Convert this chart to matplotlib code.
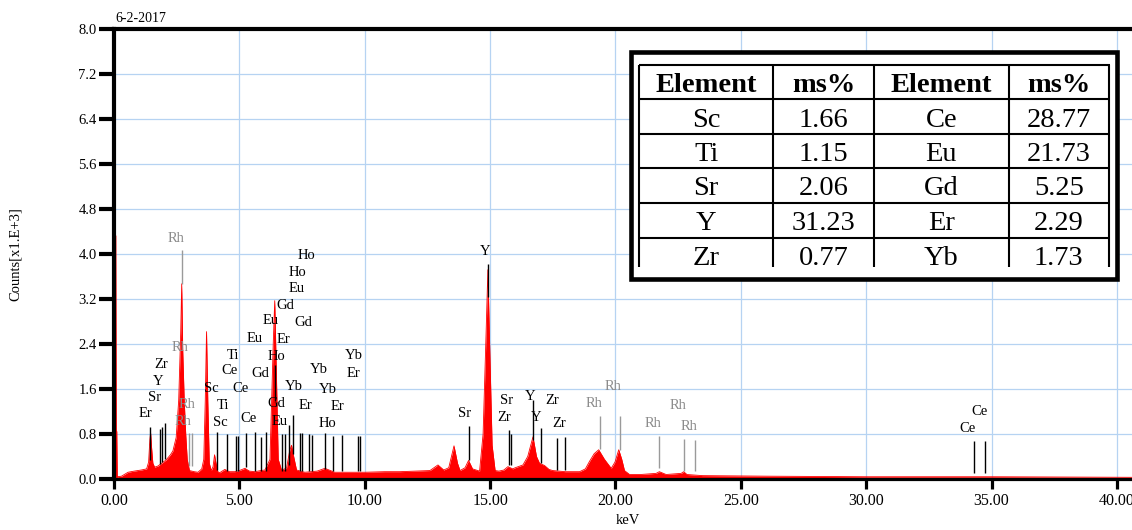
import matplotlib
matplotlib.use("Agg")
import matplotlib.pyplot as plt
from matplotlib.patches import Rectangle
from matplotlib.transforms import Bbox

plt.rcParams['font.family'] = ['Liberation Serif', 'DejaVu Serif']

# ---------------- data ----------------
energy_kev = [0.00, 0.05, 0.07, 0.09, 0.11, 0.13, 0.30, 0.56, 0.80, 1.09, 1.30, 1.38, 1.43, 1.46, 1.50,
              1.55, 1.62, 1.75, 1.90, 2.08, 2.25, 2.35, 2.48, 2.58, 2.66, 2.70, 2.74, 2.80, 2.86,
              2.92, 3.01, 3.20, 3.35, 3.50, 3.58, 3.64, 3.69, 3.74, 3.80, 3.88, 3.95, 4.01, 4.06,
              4.14, 4.21, 4.42, 4.60, 4.82, 5.00, 5.22, 5.40, 5.62, 5.85, 6.02, 6.22, 6.35, 6.41,
              6.48, 6.55, 6.68, 6.88, 7.01, 7.08, 7.17, 7.28, 7.61, 8.10, 8.41, 8.80, 9.50, 10.00,
              10.80, 11.40, 12.60, 12.92, 13.15, 13.35, 13.56, 13.70, 13.80, 14.00, 14.14, 14.30,
              14.58, 14.72, 14.84, 14.91, 14.98, 15.08, 15.20, 15.35, 15.55, 15.71, 15.90, 16.00,
              16.31, 16.50, 16.71, 16.85, 16.97, 17.17, 17.35, 17.50, 18.00, 18.57, 18.80, 18.96,
              19.15, 19.33, 19.56, 19.83, 19.98, 20.13, 20.25, 20.36, 20.56, 21.00, 21.62, 21.75,
              22.02, 22.62, 22.72, 22.85, 23.47, 26.10, 30.00, 35.00, 40.60]
counts_k = [0.00, 4.33, 4.33, 0.85, 0.85, 0.04, 0.05, 0.12, 0.14, 0.16, 0.18, 0.30, 0.70, 0.82, 0.55,
            0.28, 0.21, 0.23, 0.28, 0.34, 0.43, 0.50, 0.74, 1.40, 2.60, 3.47, 2.30, 1.40, 0.80,
            0.35, 0.15, 0.13, 0.12, 0.18, 0.35, 1.40, 2.62, 1.40, 0.28, 0.15, 0.22, 0.43, 0.30,
            0.13, 0.11, 0.17, 0.13, 0.13, 0.15, 0.19, 0.14, 0.13, 0.15, 0.16, 0.35, 2.40, 3.17,
            1.80, 0.35, 0.16, 0.19, 0.51, 0.60, 0.39, 0.16, 0.12, 0.14, 0.19, 0.12, 0.12, 0.12,
            0.13, 0.13, 0.15, 0.25, 0.16, 0.20, 0.59, 0.28, 0.15, 0.20, 0.33, 0.18,
            0.14, 0.80, 2.60, 3.72, 2.40, 0.60, 0.15, 0.14, 0.16, 0.22, 0.18, 0.20,
            0.25, 0.40, 0.75, 0.40, 0.28, 0.24, 0.17, 0.15, 0.13, 0.13, 0.18, 0.31,
            0.45, 0.52, 0.35, 0.19, 0.30, 0.52, 0.35, 0.15, 0.08, 0.08, 0.10, 0.13,
            0.08, 0.10, 0.13, 0.08, 0.06, 0.05, 0.04, 0.04, 0.03]

# element marker lines: energy, top, bottom (x1E3 counts)
line_kev = [1.42, 1.82, 1.91, 2.04, 4.09, 4.49, 4.85, 4.93, 5.27, 5.63, 5.86, 6.06, 6.44, 6.72, 6.83,
            6.96, 7.12, 7.41, 7.49, 7.78, 7.89, 8.42, 8.74, 9.10, 9.73, 9.80, 14.16, 14.93, 15.75,
            15.84, 16.73, 17.02, 17.66, 17.97, 34.28, 34.73]
line_top = [0.93, 0.89, 0.92, 0.99, 0.84, 0.80, 0.76, 0.76, 0.81, 0.83, 0.74, 0.84, 2.03, 0.80, 0.80,
            0.96, 1.13, 0.82, 0.82, 0.80, 0.78, 0.82, 0.76, 0.78, 0.76, 0.76, 0.94, 3.82, 0.87,
            0.80, 1.40, 0.90, 0.73, 0.75, 0.68, 0.68]
line_bot = [0.34, 0.27, 0.30, 0.36, 0.16, 0.15, 0.15, 0.15, 0.22, 0.15, 0.15, 0.15, 1.38, 0.15, 0.15,
            0.25, 0.45, 0.15, 0.15, 0.15, 0.15, 0.18, 0.15, 0.15, 0.15, 0.15, 0.34, 3.24, 0.25,
            0.25, 0.70, 0.28, 0.16, 0.16, 0.10, 0.10]

# Rh (tube) marker lines
rh_kev = [2.71, 3.01, 3.11, 19.40, 20.17, 21.75, 22.72, 23.17]
rh_top = [4.07, 0.81, 0.81, 1.12, 1.12, 0.76, 0.72, 0.70]
rh_bot = [3.47, 0.24, 0.24, 0.53, 0.52, 0.19, 0.15, 0.14]

# peak labels
label_text = ['Er', 'Sr', 'Y', 'Zr', 'Sc', 'Ti', 'Sc', 'Ti', 'Ce', 'Ce', 'Ce', 'Eu', 'Gd', 'Eu', 'Ho',
              'Gd', 'Eu', 'Gd', 'Er', 'Eu', 'Ho', 'Ho', 'Gd', 'Yb', 'Er', 'Yb', 'Yb', 'Er', 'Ho',
              'Yb', 'Er', 'Y', 'Sr', 'Sr', 'Zr', 'Y', 'Y', 'Zr', 'Zr', 'Ce', 'Ce']
label_kev = [1.24, 1.63, 1.77, 1.87, 3.89, 4.33, 4.25, 4.75, 4.62, 5.05, 5.38, 5.62, 5.82, 6.24, 6.48,
             6.48, 6.61, 6.85, 6.77, 7.28, 7.30, 7.67, 7.54, 7.17, 7.64, 8.17, 8.54, 8.90, 8.51,
             9.56, 9.54, 14.81, 13.98, 15.67, 15.58, 16.60, 16.84, 17.48, 17.77, 34.50, 34.04]
label_cnt = [1.16, 1.45, 1.74, 2.04, 1.61, 1.30, 1.00, 2.20, 1.92, 1.60, 1.07, 2.50, 1.88, 2.81, 2.17,
             1.35, 1.02, 3.09, 2.48, 3.39, 3.67, 3.98, 2.78, 1.65, 1.30, 1.95, 1.59, 1.29, 0.98,
             2.19, 1.88, 4.04, 1.17, 1.39, 1.10, 1.46, 1.10, 1.39, 0.98, 1.20, 0.89]
rh_label_kev = [2.46, 2.63, 2.92, 2.76, 19.16, 19.92, 21.49, 22.48, 22.92]
rh_label_cnt = [4.28, 2.34, 1.33, 1.03, 1.35, 1.65, 0.99, 1.30, 0.94]

x_ticks = [0, 5, 10, 15, 20, 25, 30, 35, 40]
y_ticks = [0.0, 0.8, 1.6, 2.4, 3.2, 4.0, 4.8, 5.6, 6.4, 7.2, 8.0]

tbl_header = ['Element', 'ms%', 'Element', 'ms%']
elem_left = ['Sc', 'Ti', 'Sr', 'Y', 'Zr']
ms_left = ['1.66', '1.15', '2.06', '31.23', '0.77']
elem_right = ['Ce', 'Eu', 'Gd', 'Er', 'Yb']
ms_right = ['28.77', '21.73', '5.25', '2.29', '1.73']

# ---------------- figure ----------------
W, H = 1132, 530
fig = plt.figure(figsize=(W / 100, H / 100), dpi=100)
ax = fig.add_axes([114 / W, 51 / H, (W - 114) / W, 450 / H])
ax.set_xlim(0, 40.6)
ax.set_ylim(0, 8.0)

ax.set_axisbelow(True)
ax.grid(True, color='#b6d3f2', lw=0.9)

ax.fill_between(energy_kev, 0, counts_k, color='#ff0000', lw=0, zorder=2)
ax.plot(energy_kev, counts_k, color='#ff0000', lw=0.6, zorder=2)

ax.vlines(line_kev, line_bot, line_top, color='black', lw=1.0, zorder=3)
ax.vlines(rh_kev, rh_bot, rh_top, color='#9a9a9a', lw=1.0, zorder=3)

for t, x, y in zip(label_text, label_kev, label_cnt):
    ax.text(x, y, t, fontsize=10.5, color='black', ha='center', va='center', zorder=4)
for x, y in zip(rh_label_kev, rh_label_cnt):
    ax.text(x, y, 'Rh', fontsize=10.5, color='#8c8c8c', ha='center', va='center', zorder=4)

ax.set_xticks(x_ticks)
ax.set_xticklabels(['%.2f' % v for v in x_ticks])
ax.set_yticks(y_ticks)
ax.set_yticklabels(['%.1f' % v for v in y_ticks])
ax.tick_params(axis='y', direction='out', length=11, width=3, pad=1.5, labelsize=10.5, colors='black')
ax.tick_params(axis='x', direction='out', length=7, width=2.3, pad=3, labelsize=11.5, colors='black')

for s in ['left', 'top']:
    ax.spines[s].set_linewidth(3.0)
ax.spines['bottom'].set_linewidth(2.3)
ax.spines['right'].set_visible(False)

fig.text(15 / W, 1 - 254 / H, 'Counts[x1.E+3]', rotation=90, ha='center', va='center', fontsize=10.5)
fig.text(628 / W, 1 - 521 / H, 'keV', ha='center', va='center', fontsize=10.5)
fig.text(115 / W, 1 - 18 / H, '6-2-2017', ha='left', va='center', fontsize=10)

# ---------------- table box ----------------
tax = fig.add_axes([0, 0, 1, 1], zorder=5)
tax.set_xlim(0, W)
tax.set_ylim(H, 0)
tax.axis('off')
tax.add_patch(Rectangle((631, 51.7), 1116.7 - 631, 278.7 - 51.7, facecolor='white',
                        edgecolor='black', lw=3.3))
col_x = [639.3, 773, 874.2, 1008.5, 1109.2]
row_y = [65.3, 99.3, 134, 167.7, 203, 238]
tbl_bottom = 266.7
for x in col_x:
    tax.plot([x, x], [row_y[0], tbl_bottom], color='black', lw=1.5, solid_capstyle='butt')
for y in row_y:
    tax.plot([col_x[0] - 0.7, col_x[-1] + 0.7], [y, y], color='black', lw=1.5, solid_capstyle='butt')

clip = Bbox([[col_x[0], H - tbl_bottom], [col_x[-1], H - row_y[0]]])
centers = [(col_x[i] + col_x[i + 1]) / 2 for i in range(4)]
for c, txt in zip(centers, tbl_header):
    tax.text(c, (row_y[0] + row_y[1]) / 2 + 10, txt, ha='center', va='baseline',
             fontsize=20.5, fontweight='bold')
row_h = row_y[2] - row_y[1]
for i in range(5):
    top = row_y[i + 1]
    yb = top + row_h / 2 + 10
    for c, txt in zip(centers, [elem_left[i], ms_left[i], elem_right[i], ms_right[i]]):
        t = tax.text(c, yb, txt, ha='center', va='baseline', fontsize=20.5)
        t.set_clip_box(clip)
        t.set_clip_on(True)

fig.savefig('out.png', dpi=100)
